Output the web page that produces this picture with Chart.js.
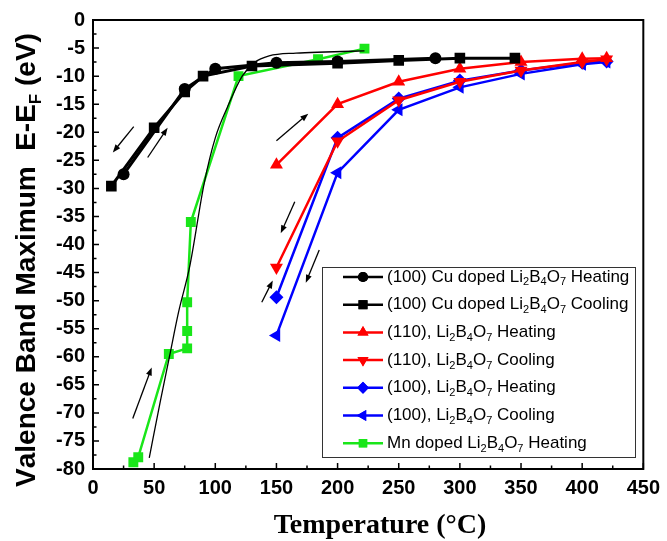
<!DOCTYPE html>
<html>
<head>
<meta charset="utf-8">
<script src="https://cdn.jsdelivr.net/npm/chart.js@4/dist/chart.umd.min.js"></script>
<style>html,body{margin:0;padding:0;background:#fff}</style>
</head>
<body>
<canvas id="myChart" width="667" height="541"></canvas>
<script>
// valence band maximum vs temperature
var cuHeatT = [25, 75, 100, 150, 200, 280];
var cuHeatE = [-27.5, -12.3, -8.7, -7.6, -7.4, -6.8];
var cuCoolT = [15, 50, 75, 90, 130, 200, 250, 300, 345];
var cuCoolE = [-29.6, -19.2, -12.8, -10.0, -8.2, -7.7, -7.2, -6.8, -6.8];
var r110HeatT = [150, 200, 250, 300, 350, 400, 420];
var r110HeatE = [-25.8, -15.0, -11.0, -8.7, -7.5, -6.9, -6.8];
var r110CoolT = [150, 200, 250, 300, 350, 400, 420];
var r110CoolE = [-44.1, -21.6, -14.3, -11.0, -9.0, -7.5, -7.0];
var b100HeatT = [150, 200, 250, 300, 350, 400, 420];
var b100HeatE = [-49.4, -21.0, -14.0, -10.8, -9.0, -7.6, -7.4];
var b100CoolT = [150, 200, 250, 300, 350, 400, 420];
var b100CoolE = [-56.2, -27.2, -16.0, -12.0, -9.6, -7.9, -7.5];
var mnHeatT = [33, 37, 62, 77, 77, 77, 80, 119, 184, 222];
var mnHeatE = [-78.8, -77.9, -59.5, -58.5, -55.4, -50.3, -36.0, -10.0, -7.0, -5.1];
// thin black guide curve
var fitT = [46, 55, 62.5, 70, 79, 91, 100, 110, 122, 132, 144, 166, 190, 222];
var fitE = [-78, -68, -60, -52, -44, -29, -21, -15.5, -10, -7.6, -6.4, -5.9, -5.7, -5.5];

var seriesNames = [
  "(100) Cu doped Li_2B_4O_7 Heating",
  "(100) Cu doped Li_2B_4O_7 Cooling",
  "(110), Li_2B_4O_7 Heating",
  "(110), Li_2B_4O_7 Cooling",
  "(100), Li_2B_4O_7 Heating",
  "(100), Li_2B_4O_7 Cooling",
  "Mn doped Li_2B_4O_7 Heating"
];
var xTicks = [0, 50, 100, 150, 200, 250, 300, 350, 400, 450];
var yTicks = [0, -5, -10, -15, -20, -25, -30, -35, -40, -45, -50, -55, -60, -65, -70, -75, -80];

// direction arrows, in data units: [x0, y0, x1, y1]
var arrows = [
  [33.3, -19, 16.2, -23.6],
  [44.7, -24.5, 61, -19.2],
  [32.5, -71, 48, -61.9],
  [150, -21.5, 176, -16.7],
  [165, -32.4, 153.5, -38],
  [138, -50.3, 147, -46.4],
  [185, -41, 174, -46.8]
];

function pts(xs, ys) {
  var out = [];
  for (var i = 0; i < xs.length; i++) out.push({x: xs[i], y: ys[i]});
  return out;
}

var GREEN = "#19e619";
var styles = [
  {c: "#000", s: "circle", r: 6, rot: 0, w: 3},
  {c: "#000", s: "rect", r: 7.5, rot: 0, w: 3},
  {c: "#ff0000", s: "triangle", r: 7.5, rot: 0, w: 2.5},
  {c: "#ff0000", s: "triangle", r: 7.5, rot: 180, w: 2.5},
  {c: "#0000ff", s: "rectRot", r: 7, rot: 0, w: 2.5},
  {c: "#0000ff", s: "triangle", r: 7.5, rot: 270, w: 2.5},
  {c: GREEN, s: "rect", r: 7, rot: 0, w: 2.5}
];
var series = [
  pts(cuHeatT, cuHeatE), pts(cuCoolT, cuCoolE),
  pts(r110HeatT, r110HeatE), pts(r110CoolT, r110CoolE),
  pts(b100HeatT, b100HeatE), pts(b100CoolT, b100CoolE),
  pts(mnHeatT, mnHeatE)
];

var datasets = [];
for (var i = 0; i < series.length; i++) {
  datasets.push({
    label: seriesNames[i].replace(/_/g, ""),
    data: series[i],
    showLine: true,
    borderColor: styles[i].c,
    backgroundColor: styles[i].c,
    borderWidth: styles[i].w,
    pointStyle: styles[i].s,
    pointRadius: styles[i].r,
    pointRotation: styles[i].rot,
    pointBorderWidth: 0,
    order: i < 2 ? 1 : 2
  });
}
datasets.push({
  label: "fit",
  data: pts(fitT, fitE),
  showLine: true,
  borderColor: "#000",
  borderWidth: 1.3,
  pointRadius: 0,
  cubicInterpolationMode: "monotone",
  order: 0
});

// text with "_x" subscripts
function drawRich(ctx, str, x, y, size, weight, family) {
  var parts = [];
  for (var k = 0; k < str.length; k++) {
    if (str[k] == "_" && k + 1 < str.length) { parts.push([str[k + 1], 1]); k++; }
    else parts.push([str[k], 0]);
  }
  var total = 0;
  parts.forEach(function(p) {
    ctx.font = weight + " " + (p[1] ? Math.round(size * 0.62) : size) + "px " + family;
    total += ctx.measureText(p[0]).width;
  });
  return {width: total, draw: function(startX) {
    var cx = startX;
    parts.forEach(function(p) {
      ctx.font = weight + " " + (p[1] ? Math.round(size * 0.62) : size) + "px " + family;
      ctx.fillText(p[0], cx, y + (p[1] ? size * 0.32 : 0));
      cx += ctx.measureText(p[0]).width;
    });
  }};
}

var decor = {
  id: "decor",
  afterDraw: function(chart) {
    var ctx = chart.ctx, a = chart.chartArea;
    var xs = chart.scales.x, ys = chart.scales.y;
    ctx.save();
    // frame
    ctx.strokeStyle = "#000";
    ctx.lineWidth = 2;
    ctx.strokeRect(a.left, a.top, a.right - a.left, a.bottom - a.top);
    // inward ticks
    ctx.lineWidth = 1.5;
    ctx.beginPath();
    for (var v = 0; v <= 450; v += 25) {
      var px = xs.getPixelForValue(v);
      var len = (v % 50 == 0) ? 6 : 3.5;
      ctx.moveTo(px, a.bottom); ctx.lineTo(px, a.bottom - len);
    }
    for (var w = -80; w <= 0; w += 2.5) {
      var py = ys.getPixelForValue(w);
      var l2 = (w % 5 == 0) ? 6 : 3.5;
      ctx.moveTo(a.left, py); ctx.lineTo(a.left + l2, py);
    }
    ctx.stroke();

    // arrows
    ctx.lineWidth = 1.3;
    ctx.fillStyle = "#000";
    arrows.forEach(function(ar) {
      var x0 = xs.getPixelForValue(ar[0]), y0 = ys.getPixelForValue(ar[1]);
      var x1 = xs.getPixelForValue(ar[2]), y1 = ys.getPixelForValue(ar[3]);
      var ang = Math.atan2(y1 - y0, x1 - x0), h = 8;
      ctx.beginPath();
      ctx.moveTo(x0, y0);
      ctx.lineTo(x1 - Math.cos(ang) * h * 0.8, y1 - Math.sin(ang) * h * 0.8);
      ctx.stroke();
      ctx.beginPath();
      ctx.moveTo(x1, y1);
      ctx.lineTo(x1 - h * Math.cos(ang) + 3 * Math.sin(ang), y1 - h * Math.sin(ang) - 3 * Math.cos(ang));
      ctx.lineTo(x1 - h * Math.cos(ang) - 3 * Math.sin(ang), y1 - h * Math.sin(ang) + 3 * Math.cos(ang));
      ctx.closePath();
      ctx.fill();
    });

    // legend box
    var lx = 322, ly = 267, lw = 313, lh = 190;
    ctx.fillStyle = "#fff";
    ctx.fillRect(lx, ly, lw, lh);
    ctx.strokeStyle = "#333";
    ctx.lineWidth = 1;
    ctx.strokeRect(lx + 0.5, ly + 0.5, lw, lh);
    ctx.textBaseline = "middle";
    ctx.textAlign = "left";
    for (var j = 0; j < seriesNames.length; j++) {
      var st = styles[j];
      var rowY = 277 + j * 27.7;
      ctx.strokeStyle = st.c;
      ctx.fillStyle = st.c;
      ctx.lineWidth = 2.5;
      ctx.beginPath();
      ctx.moveTo(343, rowY); ctx.lineTo(383, rowY);
      ctx.stroke();
      Chart.helpers.drawPoint(ctx, {pointStyle: st.s, radius: st.r * 0.85, rotation: st.rot, borderWidth: 0}, 363, rowY);
      ctx.fill();
      ctx.fillStyle = "#000";
      drawRich(ctx, seriesNames[j], 0, rowY, 17, "normal", "'Liberation Sans', Arial, sans-serif").draw(387);
    }

    // axis titles
    ctx.fillStyle = "#000";
    ctx.font = "bold 28px 'Liberation Serif', 'Times New Roman', serif";
    ctx.textAlign = "center";
    ctx.fillText("Temperature (\u00B0C)", 380, 526);

    ctx.translate(27, 260);
    ctx.rotate(-Math.PI / 2);
    ctx.textAlign = "left";
    var t = drawRich(ctx, "Valence Band Maximum  E-E_F (eV)", 0, 0, 28, "bold", "'Liberation Sans', Arial, sans-serif");
    t.draw(-t.width / 2);
    ctx.restore();
  }
};

new Chart("myChart", {
  type: "scatter",
  data: {datasets: datasets},
  options: {
    responsive: false,
    animation: false,
    devicePixelRatio: 1,
    layout: {padding: {left: 0, top: 19, right: 20, bottom: 0}},
    plugins: {legend: {display: false}, tooltip: {enabled: false}},
    scales: {
      x: {
        min: 0, max: 450,
        grid: {display: false, drawTicks: false},
        border: {display: false},
        afterFit: function(s) { s.height = 72; },
        afterBuildTicks: function(s) { s.ticks = xTicks.map(function(v) { return {value: v}; }); },
        ticks: {color: "#000", padding: 7, maxRotation: 0,
          font: {family: "'Liberation Sans', Arial, sans-serif", size: 20, weight: "bold"}}
      },
      y: {
        min: -80, max: 0,
        grid: {display: false, drawTicks: false},
        border: {display: false},
        afterFit: function(s) { s.width = 93; },
        afterBuildTicks: function(s) { s.ticks = yTicks.map(function(v) { return {value: v}; }); },
        ticks: {color: "#000", padding: 8,
          font: {family: "'Liberation Sans', Arial, sans-serif", size: 20, weight: "bold"}}
      }
    }
  },
  plugins: [decor]
});
</script>
</body>
</html>
